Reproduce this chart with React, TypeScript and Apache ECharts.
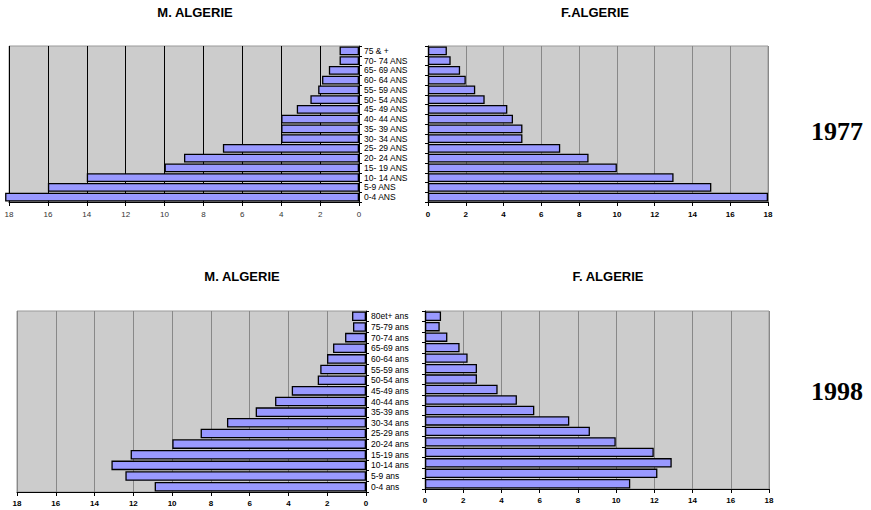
import React, { useEffect, useRef } from "react";
import * as echarts from "echarts";

const cat1977 = ["0-4 ANS", "5-9 ANS", "10- 14 ANS", "15- 19 ANS", "20- 24 ANS", "25- 29 ANS", "30- 34 ANS", "35- 39 ANS", "40- 44 ANS", "45- 49 ANS", "50- 54 ANS", "55- 59 ANS", "60- 64 ANS", "65- 69 ANS", "70- 74 ANS", "75 & +"];
const m1977 = [18.2, 16, 14, 10, 9, 7, 4, 4, 4, 3.2, 2.5, 2.1, 1.9, 1.55, 1, 1];
const f1977 = [18, 15, 13, 10, 8.5, 7, 5, 5, 4.5, 4.2, 3, 2.5, 2, 1.7, 1.2, 1];

const cat1998 = ["0-4 ans", "5-9 ans", "10-14 ans", "15-19 ans", "20-24 ans", "25-29 ans", "30-34 ans", "35-39 ans", "40-44 ans", "45-49 ans", "50-54 ans", "55-59 ans", "60-64 ans", "65-69 ans", "70-74 ans", "75-79 ans", "80et+ ans"];
const m1998 = [10.9, 12.41, 13.13, 12.14, 9.99, 8.53, 7.17, 5.69, 4.69, 3.83, 2.49, 2.36, 2.01, 1.7, 1.08, 0.67, 0.72];
const f1998 = [10.74, 12.16, 12.91, 11.97, 9.98, 8.63, 7.55, 5.72, 4.81, 3.8, 2.72, 2.72, 2.23, 1.81, 1.17, 0.77, 0.84];

const titles = ["M. ALGERIE", "F.ALGERIE", "M. ALGERIE", "F. ALGERIE"];
const years = ["1977", "1998"];

const FONT = "'Liberation Sans', Arial, sans-serif";

export default function App() {
  const ref = useRef<HTMLDivElement>(null);
  useEffect(() => {
    if (!ref.current) return;
    const chart = echarts.init(ref.current, null, { renderer: "svg" });

    const grids = [
      { left: 9, top: 46, width: 350, height: 156 },
      { left: 428, top: 46, width: 340, height: 156 },
      { left: 17, top: 311, width: 349, height: 181 },
      { left: 425, top: 311, width: 344, height: 178 },
    ].map((g) => ({
      ...g,
      show: true,
      backgroundColor: "#cccccc",
      borderColor: "#999999",
      borderWidth: 1,
      containLabel: false,
    }));

    const xAxis = [0, 1, 2, 3].map((i) => ({
      type: "value",
      gridIndex: i,
      min: 0,
      max: 18,
      interval: 2,
      inverse: i % 2 === 0,
      axisLine: { show: true, lineStyle: { color: "#000", width: 1 } },
      axisTick: { show: true, length: 4, lineStyle: { color: "#000" } },
      axisLabel: {
        fontSize: 8,
        fontFamily: FONT,
        color: i === 0 ? "#333" : "#000",
        fontWeight: i === 0 ? "normal" : "bold",
        margin: i < 2 ? 8 : 7,
      },
      splitLine: {
        show: true,
        lineStyle: { color: i === 0 ? "#000" : "#888888", width: 1 },
      },
    }));

    const yAxis = [0, 1, 2, 3].map((i) => ({
      type: "category",
      gridIndex: i,
      data: i < 2 ? cat1977 : cat1998,
      position: i % 2 === 0 ? "right" : "left",
      axisLine: { show: true, lineStyle: { color: "#000", width: 1 } },
      axisTick: { show: true, length: 3, lineStyle: { color: "#000" } },
      axisLabel: {
        show: i % 2 === 0,
        fontSize: 8.5,
        fontFamily: FONT,
        color: "#000",
        margin: 5,
        align: "left",
        interval: 0,
      },
      splitLine: { show: false },
    }));

    const seriesData = [m1977, f1977, m1998, f1998];
    const series = seriesData.map((d, i) => ({
      type: "bar",
      xAxisIndex: i,
      yAxisIndex: i,
      data: d,
      clip: false,
      barCategoryGap: "10%",
      itemStyle: { color: "#9999ff", borderColor: "#000", borderWidth: 1.3 },
    }));

    const titleCenters = [
      { left: 195, top: 6 },
      { left: 595, top: 6 },
      { left: 242, top: 270 },
      { left: 608, top: 270 },
    ];
    const title: any[] = titles.map((t, i) => ({
      text: t,
      left: titleCenters[i].left,
      top: titleCenters[i].top,
      textAlign: "center",
      padding: 0,
      textStyle: { fontSize: 13, fontWeight: "bold", fontFamily: FONT, color: "#000" },
    }));
    years.forEach((y, i) => {
      title.push({
        text: y,
        left: 837,
        top: i === 0 ? 118 : 378,
        textAlign: "center",
        padding: 0,
        textStyle: { fontSize: 26, fontWeight: "bold", fontFamily: "'Liberation Serif', 'Times New Roman', serif", color: "#000" },
      });
    });

    chart.setOption({
      animation: false,
      backgroundColor: "#ffffff",
      title,
      grid: grids,
      xAxis,
      yAxis,
      series,
    } as any);
    return () => chart.dispose();
  }, []);
  return <div ref={ref} style={{ position: "fixed", left: 0, top: 0, width: 871, height: 510 }} />;
}
